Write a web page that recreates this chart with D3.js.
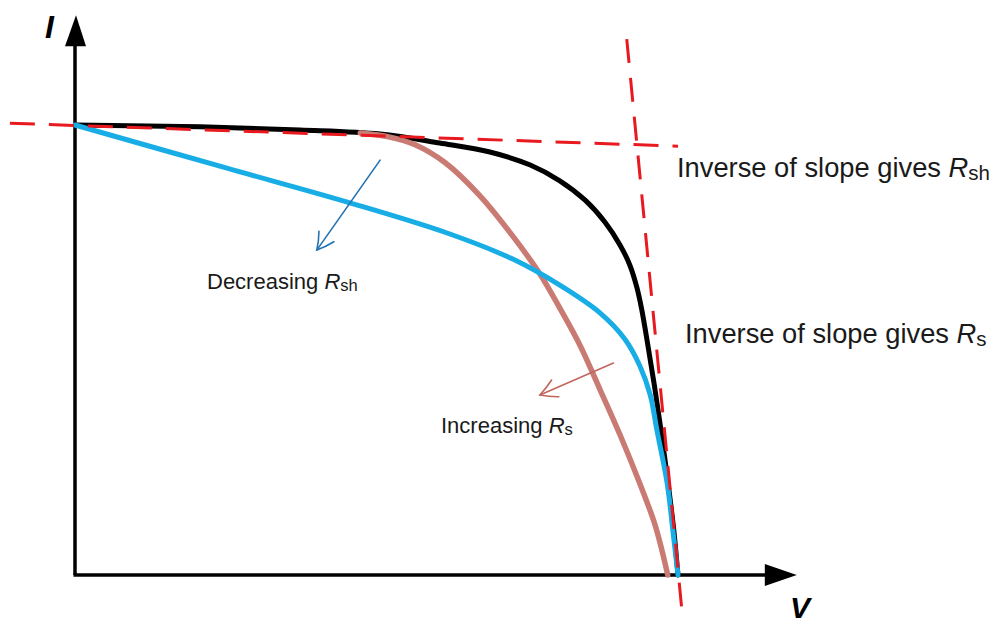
<!DOCTYPE html>
<html>
<head>
<meta charset="utf-8">
<script src="https://cdn.jsdelivr.net/npm/d3@7/dist/d3.min.js"></script>
<style>
  html, body { margin: 0; padding: 0; background: #fff; }
  svg { display: block; }
  text { font-family: "Liberation Sans", Arial, sans-serif; }
</style>
</head>
<body>
<svg id="chart" width="1000" height="624"></svg>
<script>
// Normalised voltage (V) and current (I) samples
const blackV = [0, 0.207, 0.373, 0.506, 0.605, 0.688, 0.755, 0.804, 0.846, 0.879, 0.904, 0.920, 0.932, 0.940, 0.950, 0.962, 0.974, 0.985, 0.993, 1.0];
const blackI = [1.0, 0.996, 0.989, 0.980, 0.960, 0.940, 0.911, 0.876, 0.833, 0.784, 0.733, 0.689, 0.638, 0.589, 0.511, 0.411, 0.300, 0.189, 0.100, 0];

const blueV = [0, 0.252, 0.456, 0.617, 0.726, 0.804, 0.871, 0.912, 0.937, 0.954, 0.965, 0.982, 0.992, 1.0];
const blueI = [1.0, 0.904, 0.827, 0.760, 0.702, 0.644, 0.582, 0.524, 0.464, 0.400, 0.322, 0.204, 0.093, 0];

const brownV = [0.473, 0.522, 0.564, 0.614, 0.672, 0.726, 0.771, 0.804, 0.838, 0.871, 0.904, 0.937, 0.962, 0.983];
const brownI = [0.982, 0.973, 0.956, 0.916, 0.842, 0.753, 0.669, 0.593, 0.509, 0.411, 0.311, 0.202, 0.111, 0];

// Tangent (dashed) lines: [V, I] endpoints
const shuntTangentV = [-0.108, 1.0];
const shuntTangentI = [1.004, 0.953];
const seriesTangentV = [0.915, 1.008];
const seriesTangentI = [1.191, -0.100];

// Axis extents
const axisMaxV = 1.197;
const axisMaxI = 1.244;

const svg = d3.select("#chart");
const x = d3.scaleLinear().domain([0, 1]).range([75, 678]);
const y = d3.scaleLinear().domain([0, 1]).range([575, 125]);

const zip = (a, b) => a.map((v, i) => [v, b[i]]);
const line = d3.line().x(d => x(d[0])).y(d => y(d[1])).curve(d3.curveCatmullRom.alpha(0.5));
const straight = d3.line().x(d => x(d[0])).y(d => y(d[1]));

// Axes
const axisG = svg.append("g");
axisG.append("line")
  .attr("x1", x(0)).attr("y1", y(0)).attr("x2", x(0)).attr("y2", y(axisMaxI) + 28)
  .attr("stroke", "#000").attr("stroke-width", 3.5);
axisG.append("line")
  .attr("x1", x(0) - 1.5).attr("y1", y(0)).attr("x2", x(axisMaxV) - 30).attr("y2", y(0))
  .attr("stroke", "#000").attr("stroke-width", 3.5);
const yt = [x(0) + 1, y(axisMaxI)];
axisG.append("path")
  .attr("d", `M${yt[0]},${yt[1]} L${yt[0] - 11},${yt[1] + 31} L${yt[0] + 10},${yt[1] + 31} Z`)
  .attr("fill", "#000");
const xt = [x(axisMaxV), y(0)];
axisG.append("path")
  .attr("d", `M${xt[0]},${xt[1]} L${xt[0] - 32},${xt[1] - 11} L${xt[0] - 32},${xt[1] + 11} Z`)
  .attr("fill", "#000");

axisG.append("text").attr("x", 45).attr("y", 38)
  .attr("font-size", 32).attr("font-weight", "bold").attr("font-style", "italic").text("I");
axisG.append("text").attr("x", 790).attr("y", 618)
  .attr("font-size", 30).attr("font-weight", "bold").attr("font-style", "italic").text("V");

// Curves
svg.append("path").attr("d", line(zip(blackV, blackI)))
  .attr("fill", "none").attr("stroke", "#000").attr("stroke-width", 5).attr("stroke-linecap", "round");
svg.append("path").attr("d", line(zip(brownV, brownI)))
  .attr("fill", "none").attr("stroke", "#c97b73").attr("stroke-width", 5.5).attr("stroke-linecap", "round");
svg.append("path").attr("d", line(zip(blueV, blueI)))
  .attr("fill", "none").attr("stroke", "#19ade6").attr("stroke-width", 5).attr("stroke-linecap", "round");

// Dashed tangents
svg.append("path").attr("d", straight(zip(shuntTangentV, shuntTangentI)))
  .attr("fill", "none").attr("stroke", "#e8191f").attr("stroke-width", 3).attr("stroke-dasharray", "25,14");
svg.append("path").attr("d", straight(zip(seriesTangentV, seriesTangentI)))
  .attr("fill", "none").attr("stroke", "#e8191f").attr("stroke-width", 3).attr("stroke-dasharray", "24,15");

// Annotation arrows
function arrow(p0, p1, color) {
  const g = svg.append("g").attr("stroke", color).attr("fill", "none").attr("stroke-width", 1.6)
    .attr("stroke-linecap", "round");
  g.append("line").attr("x1", p0[0]).attr("y1", p0[1]).attr("x2", p1[0]).attr("y2", p1[1]);
  const ang = Math.atan2(p1[1] - p0[1], p1[0] - p0[0]);
  const L = 19, spread = 0.5;
  const a1 = [p1[0] - L * Math.cos(ang - spread), p1[1] - L * Math.sin(ang - spread)];
  const a2 = [p1[0] - L * Math.cos(ang + spread), p1[1] - L * Math.sin(ang + spread)];
  g.append("path").attr("d", `M${a1[0]},${a1[1]} Q${(a1[0]+p1[0])/2+1},${(a1[1]+p1[1])/2} ${p1[0]},${p1[1]} Q${(a2[0]+p1[0])/2},${(a2[1]+p1[1])/2+1} ${a2[0]},${a2[1]}`);
}
arrow([x(0.506), y(0.922)], [x(0.401), y(0.722)], "#2173b4");
arrow([x(0.893), y(0.471)], [x(0.771), y(0.400)], "#c4655d");

// Labels
function label(px, py, size, main, sub) {
  const t = svg.append("text").attr("x", px).attr("y", py).attr("font-size", size).attr("fill", "#1a1a1a");
  t.append("tspan").text(main);
  t.append("tspan").attr("font-style", "italic").text("R");
  t.append("tspan").attr("font-size", size * 0.75).attr("dy", size * 0.1).text(sub);
}
label(677, 177, 27.3, "Inverse of slope gives ", "sh");
label(685, 343, 27.3, "Inverse of slope gives ", "s");
label(207, 289, 22, "Decreasing ", "sh");
label(441, 433, 22, "Increasing ", "s");
</script>
</body>
</html>
